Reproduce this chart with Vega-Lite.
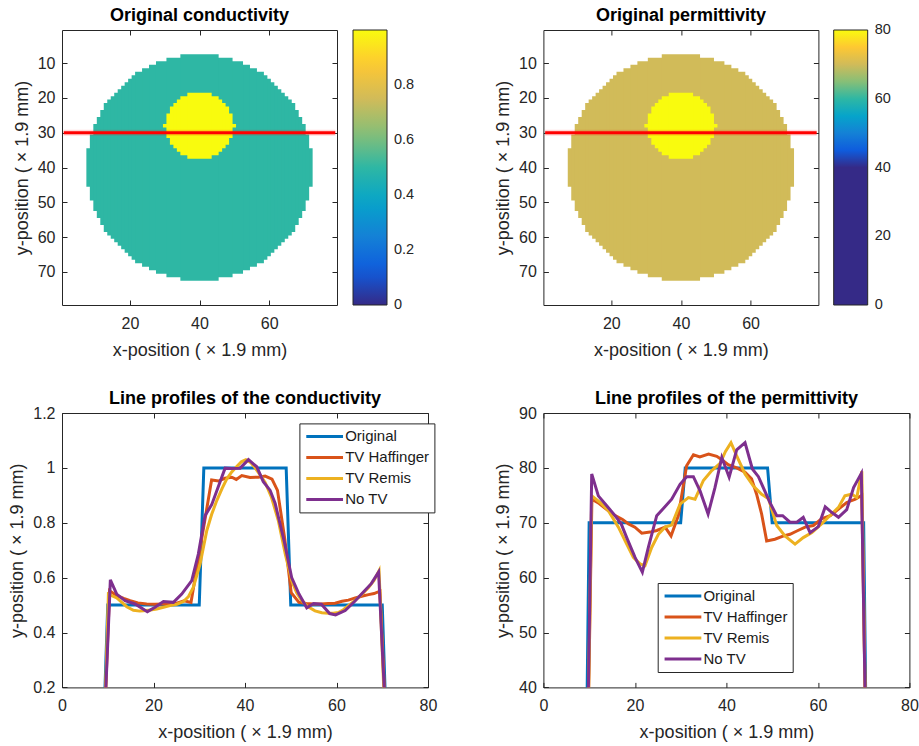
{
  "$schema": "https://vega.github.io/schema/vega-lite/v6.json",
  "padding": {"left": 8, "top": 6, "right": 5, "bottom": 4},
  "background": "white",
  "config": {
    "font": "Liberation Sans",
    "view": {"stroke": "#262626", "strokeWidth": 1},
    "axis": {
      "domain": false, "grid": false,
      "tickColor": "#262626", "tickSize": -5, "tickWidth": 1,
      "labelColor": "#262626", "labelFontSize": 16, "labelFont": "Liberation Sans",
      "titleColor": "#262626", "titleFontSize": 18, "titleFontWeight": "normal", "titleFont": "Liberation Sans",
      "labelFlush": false
    },
    "axisX": {"labelPadding": 15.5, "titlePadding": 10},
    "axisY": {"labelPadding": 12, "titlePadding": 6},
    "title": {"fontSize": 18, "fontWeight": "bold", "font": "Liberation Sans", "color": "#000000", "offset": 5, "baseline": "alphabetic"},
    "legend": {"labelFont": "Liberation Sans"}
  },
  "datasets": {
    "disk": [
      {"x0": 7.5, "x1": 72.5, "y0": 34.5, "y1": 45.5, "cond": 0.5, "perm": 70},
      {"x0": 8.5, "x1": 71.5, "y0": 30.5, "y1": 49.5, "cond": 0.5, "perm": 70},
      {"x0": 9.5, "x1": 70.5, "y0": 27.5, "y1": 52.5, "cond": 0.5, "perm": 70},
      {"x0": 10.5, "x1": 69.5, "y0": 25.5, "y1": 54.5, "cond": 0.5, "perm": 70},
      {"x0": 11.5, "x1": 68.5, "y0": 23.5, "y1": 56.5, "cond": 0.5, "perm": 70},
      {"x0": 12.5, "x1": 67.5, "y0": 21.5, "y1": 58.5, "cond": 0.5, "perm": 70},
      {"x0": 13.5, "x1": 66.5, "y0": 20.5, "y1": 59.5, "cond": 0.5, "perm": 70},
      {"x0": 14.5, "x1": 65.5, "y0": 19.5, "y1": 60.5, "cond": 0.5, "perm": 70},
      {"x0": 15.5, "x1": 64.5, "y0": 18.5, "y1": 61.5, "cond": 0.5, "perm": 70},
      {"x0": 16.5, "x1": 63.5, "y0": 17.5, "y1": 62.5, "cond": 0.5, "perm": 70},
      {"x0": 17.5, "x1": 62.5, "y0": 16.5, "y1": 63.5, "cond": 0.5, "perm": 70},
      {"x0": 18.5, "x1": 61.5, "y0": 15.5, "y1": 64.5, "cond": 0.5, "perm": 70},
      {"x0": 19.5, "x1": 60.5, "y0": 14.5, "y1": 65.5, "cond": 0.5, "perm": 70},
      {"x0": 20.5, "x1": 59.5, "y0": 13.5, "y1": 66.5, "cond": 0.5, "perm": 70},
      {"x0": 21.5, "x1": 58.5, "y0": 12.5, "y1": 67.5, "cond": 0.5, "perm": 70},
      {"x0": 23.5, "x1": 56.5, "y0": 11.5, "y1": 68.5, "cond": 0.5, "perm": 70},
      {"x0": 25.5, "x1": 54.5, "y0": 10.5, "y1": 69.5, "cond": 0.5, "perm": 70},
      {"x0": 27.5, "x1": 52.5, "y0": 9.5, "y1": 70.5, "cond": 0.5, "perm": 70},
      {"x0": 30.5, "x1": 49.5, "y0": 8.5, "y1": 71.5, "cond": 0.5, "perm": 70},
      {"x0": 34.5, "x1": 45.5, "y0": 7.5, "y1": 72.5, "cond": 0.5, "perm": 70},
      {"x0": 29.5, "x1": 50.5, "y0": 27.5, "y1": 28.5, "cond": 1, "perm": 80},
      {"x0": 30.5, "x1": 49.5, "y0": 24.5, "y1": 31.5, "cond": 1, "perm": 80},
      {"x0": 31.5, "x1": 48.5, "y0": 22.5, "y1": 33.5, "cond": 1, "perm": 80},
      {"x0": 32.5, "x1": 47.5, "y0": 21.5, "y1": 34.5, "cond": 1, "perm": 80},
      {"x0": 33.5, "x1": 46.5, "y0": 20.5, "y1": 35.5, "cond": 1, "perm": 80},
      {"x0": 34.5, "x1": 45.5, "y0": 19.5, "y1": 36.5, "cond": 1, "perm": 80},
      {"x0": 36.5, "x1": 43.5, "y0": 18.5, "y1": 37.5, "cond": 1, "perm": 80}
    ],
    "cut": [{"x": 1, "x2": 79, "y": 30}],
    "cond": [
      {"s": "Original", "x": 9, "v": 0}, {"s": "Original", "x": 10, "v": 0.5}, {"s": "Original", "x": 30, "v": 0.5}, {"s": "Original", "x": 31, "v": 1},
      {"s": "Original", "x": 49, "v": 1}, {"s": "Original", "x": 50, "v": 0.5}, {"s": "Original", "x": 70, "v": 0.5}, {"s": "Original", "x": 71, "v": 0},
      {"s": "TV Haffinger", "x": 9.1, "v": 0}, {"s": "TV Haffinger", "x": 10.4, "v": 0.552}, {"s": "TV Haffinger", "x": 12.0, "v": 0.534}, {"s": "TV Haffinger", "x": 13.5, "v": 0.524},
      {"s": "TV Haffinger", "x": 14.9, "v": 0.516}, {"s": "TV Haffinger", "x": 16.6, "v": 0.508}, {"s": "TV Haffinger", "x": 18.5, "v": 0.504}, {"s": "TV Haffinger", "x": 20.3, "v": 0.503},
      {"s": "TV Haffinger", "x": 22.2, "v": 0.504}, {"s": "TV Haffinger", "x": 23.7, "v": 0.505}, {"s": "TV Haffinger", "x": 25.1, "v": 0.507}, {"s": "TV Haffinger", "x": 26.7, "v": 0.516},
      {"s": "TV Haffinger", "x": 28.2, "v": 0.51}, {"s": "TV Haffinger", "x": 32.7, "v": 0.956}, {"s": "TV Haffinger", "x": 34.2, "v": 0.952}, {"s": "TV Haffinger", "x": 35.6, "v": 0.962},
      {"s": "TV Haffinger", "x": 37.1, "v": 0.966}, {"s": "TV Haffinger", "x": 38.1, "v": 0.958}, {"s": "TV Haffinger", "x": 39.3, "v": 0.972}, {"s": "TV Haffinger", "x": 41.1, "v": 0.965},
      {"s": "TV Haffinger", "x": 42.9, "v": 0.966}, {"s": "TV Haffinger", "x": 44.4, "v": 0.97}, {"s": "TV Haffinger", "x": 45.9, "v": 0.959}, {"s": "TV Haffinger", "x": 47.1, "v": 0.918},
      {"s": "TV Haffinger", "x": 48.7, "v": 0.74}, {"s": "TV Haffinger", "x": 50.1, "v": 0.545}, {"s": "TV Haffinger", "x": 51.8, "v": 0.51}, {"s": "TV Haffinger", "x": 53.4, "v": 0.506},
      {"s": "TV Haffinger", "x": 55.0, "v": 0.504}, {"s": "TV Haffinger", "x": 56.6, "v": 0.504}, {"s": "TV Haffinger", "x": 58.2, "v": 0.506}, {"s": "TV Haffinger", "x": 59.7, "v": 0.507},
      {"s": "TV Haffinger", "x": 61.2, "v": 0.514}, {"s": "TV Haffinger", "x": 62.6, "v": 0.518}, {"s": "TV Haffinger", "x": 64.1, "v": 0.526}, {"s": "TV Haffinger", "x": 65.5, "v": 0.532},
      {"s": "TV Haffinger", "x": 67.0, "v": 0.538}, {"s": "TV Haffinger", "x": 68.2, "v": 0.542}, {"s": "TV Haffinger", "x": 69.5, "v": 0.551}, {"s": "TV Haffinger", "x": 71.0, "v": 0},
      {"s": "TV Remis", "x": 9.2, "v": 0}, {"s": "TV Remis", "x": 10.14, "v": 0.54}, {"s": "TV Remis", "x": 11.96, "v": 0.526}, {"s": "TV Remis", "x": 13.4, "v": 0.505},
      {"s": "TV Remis", "x": 14.15, "v": 0.494}, {"s": "TV Remis", "x": 15.61, "v": 0.481}, {"s": "TV Remis", "x": 17.0, "v": 0.478}, {"s": "TV Remis", "x": 17.79, "v": 0.479},
      {"s": "TV Remis", "x": 19.3, "v": 0.482}, {"s": "TV Remis", "x": 20.71, "v": 0.486}, {"s": "TV Remis", "x": 22.2, "v": 0.492}, {"s": "TV Remis", "x": 23.62, "v": 0.498},
      {"s": "TV Remis", "x": 25.1, "v": 0.503}, {"s": "TV Remis", "x": 26.54, "v": 0.513}, {"s": "TV Remis", "x": 27.6, "v": 0.53}, {"s": "TV Remis", "x": 28.72, "v": 0.565},
      {"s": "TV Remis", "x": 30.18, "v": 0.649}, {"s": "TV Remis", "x": 31.64, "v": 0.771}, {"s": "TV Remis", "x": 32.7, "v": 0.83}, {"s": "TV Remis", "x": 33.83, "v": 0.881},
      {"s": "TV Remis", "x": 35.0, "v": 0.925}, {"s": "TV Remis", "x": 36.0, "v": 0.959}, {"s": "TV Remis", "x": 37.1, "v": 0.985}, {"s": "TV Remis", "x": 38.2, "v": 1.005},
      {"s": "TV Remis", "x": 39.2, "v": 1.022}, {"s": "TV Remis", "x": 40.2, "v": 1.03}, {"s": "TV Remis", "x": 41.2, "v": 1.02}, {"s": "TV Remis", "x": 42.2, "v": 1.0},
      {"s": "TV Remis", "x": 43.3, "v": 0.975}, {"s": "TV Remis", "x": 44.4, "v": 0.947}, {"s": "TV Remis", "x": 45.8, "v": 0.892}, {"s": "TV Remis", "x": 47.3, "v": 0.807},
      {"s": "TV Remis", "x": 48.8, "v": 0.686}, {"s": "TV Remis", "x": 50.2, "v": 0.589}, {"s": "TV Remis", "x": 51.3, "v": 0.545}, {"s": "TV Remis", "x": 52.4, "v": 0.516},
      {"s": "TV Remis", "x": 53.8, "v": 0.494}, {"s": "TV Remis", "x": 55.3, "v": 0.479}, {"s": "TV Remis", "x": 56.8, "v": 0.472}, {"s": "TV Remis", "x": 58.2, "v": 0.47},
      {"s": "TV Remis", "x": 59.3, "v": 0.47}, {"s": "TV Remis", "x": 60.4, "v": 0.473}, {"s": "TV Remis", "x": 61.5, "v": 0.483}, {"s": "TV Remis", "x": 62.6, "v": 0.498},
      {"s": "TV Remis", "x": 63.7, "v": 0.512}, {"s": "TV Remis", "x": 64.8, "v": 0.528}, {"s": "TV Remis", "x": 65.9, "v": 0.545}, {"s": "TV Remis", "x": 67.0, "v": 0.564},
      {"s": "TV Remis", "x": 68.2, "v": 0.59}, {"s": "TV Remis", "x": 69.3, "v": 0.625}, {"s": "TV Remis", "x": 70.8, "v": 0},
      {"s": "No TV", "x": 9.1, "v": 0}, {"s": "No TV", "x": 10.57, "v": 0.592}, {"s": "No TV", "x": 11.96, "v": 0.54}, {"s": "No TV", "x": 13.78, "v": 0.516},
      {"s": "No TV", "x": 15.97, "v": 0.504}, {"s": "No TV", "x": 18.66, "v": 0.476}, {"s": "No TV", "x": 20.34, "v": 0.492}, {"s": "No TV", "x": 22.17, "v": 0.513},
      {"s": "No TV", "x": 24.35, "v": 0.51}, {"s": "No TV", "x": 26.17, "v": 0.54}, {"s": "No TV", "x": 28.36, "v": 0.589}, {"s": "No TV", "x": 29.8, "v": 0.686},
      {"s": "No TV", "x": 31.27, "v": 0.826}, {"s": "No TV", "x": 32.72, "v": 0.866}, {"s": "No TV", "x": 35.65, "v": 0.999}, {"s": "No TV", "x": 37.1, "v": 0.998},
      {"s": "No TV", "x": 38.94, "v": 0.999}, {"s": "No TV", "x": 40.75, "v": 1.03}, {"s": "No TV", "x": 42.57, "v": 1.004}, {"s": "No TV", "x": 44.0, "v": 0.95},
      {"s": "No TV", "x": 45.5, "v": 0.918}, {"s": "No TV", "x": 46.6, "v": 0.87}, {"s": "No TV", "x": 48.6, "v": 0.73}, {"s": "No TV", "x": 50.2, "v": 0.6},
      {"s": "No TV", "x": 51.8, "v": 0.54}, {"s": "No TV", "x": 53.5, "v": 0.49}, {"s": "No TV", "x": 55.0, "v": 0.506}, {"s": "No TV", "x": 56.7, "v": 0.503},
      {"s": "No TV", "x": 58.5, "v": 0.469}, {"s": "No TV", "x": 59.8, "v": 0.464}, {"s": "No TV", "x": 61.9, "v": 0.48}, {"s": "No TV", "x": 64.0, "v": 0.514},
      {"s": "No TV", "x": 66.3, "v": 0.555}, {"s": "No TV", "x": 67.6, "v": 0.578}, {"s": "No TV", "x": 69.2, "v": 0.62}, {"s": "No TV", "x": 71.0, "v": 0}
    ],
    "perm": [
      {"s": "Original", "x": 9, "v": 0}, {"s": "Original", "x": 10, "v": 70}, {"s": "Original", "x": 30, "v": 70}, {"s": "Original", "x": 31, "v": 80},
      {"s": "Original", "x": 49, "v": 80}, {"s": "Original", "x": 50, "v": 70}, {"s": "Original", "x": 70, "v": 70}, {"s": "Original", "x": 71, "v": 0},
      {"s": "TV Haffinger", "x": 9.1, "v": 0}, {"s": "TV Haffinger", "x": 10.6, "v": 74.3}, {"s": "TV Haffinger", "x": 12.2, "v": 73.5}, {"s": "TV Haffinger", "x": 14.0, "v": 72.3},
      {"s": "TV Haffinger", "x": 15.7, "v": 71.3}, {"s": "TV Haffinger", "x": 17.3, "v": 70.6}, {"s": "TV Haffinger", "x": 18.6, "v": 69.8}, {"s": "TV Haffinger", "x": 20.0, "v": 69.2},
      {"s": "TV Haffinger", "x": 21.5, "v": 68.1}, {"s": "TV Haffinger", "x": 23.3, "v": 68.3}, {"s": "TV Haffinger", "x": 24.8, "v": 68.6}, {"s": "TV Haffinger", "x": 26.6, "v": 69.2},
      {"s": "TV Haffinger", "x": 27.9, "v": 67.6}, {"s": "TV Haffinger", "x": 29.5, "v": 71.3}, {"s": "TV Haffinger", "x": 31.3, "v": 80.4}, {"s": "TV Haffinger", "x": 32.8, "v": 82.4},
      {"s": "TV Haffinger", "x": 34.2, "v": 82.0}, {"s": "TV Haffinger", "x": 36.1, "v": 82.5}, {"s": "TV Haffinger", "x": 37.9, "v": 82.1}, {"s": "TV Haffinger", "x": 39.0, "v": 81.5},
      {"s": "TV Haffinger", "x": 40.4, "v": 80.6}, {"s": "TV Haffinger", "x": 42.25, "v": 80.0}, {"s": "TV Haffinger", "x": 44.07, "v": 79.2}, {"s": "TV Haffinger", "x": 45.5, "v": 78.0},
      {"s": "TV Haffinger", "x": 46.6, "v": 75.2}, {"s": "TV Haffinger", "x": 47.7, "v": 71.6}, {"s": "TV Haffinger", "x": 48.8, "v": 66.7}, {"s": "TV Haffinger", "x": 50.6, "v": 67.0},
      {"s": "TV Haffinger", "x": 52.5, "v": 67.6}, {"s": "TV Haffinger", "x": 53.9, "v": 67.9}, {"s": "TV Haffinger", "x": 55.4, "v": 68.5}, {"s": "TV Haffinger", "x": 57.2, "v": 69.2},
      {"s": "TV Haffinger", "x": 59.0, "v": 69.5}, {"s": "TV Haffinger", "x": 60.8, "v": 70.7}, {"s": "TV Haffinger", "x": 62.7, "v": 71.3}, {"s": "TV Haffinger", "x": 64.5, "v": 72.5},
      {"s": "TV Haffinger", "x": 66.3, "v": 73.7}, {"s": "TV Haffinger", "x": 68.2, "v": 74.3}, {"s": "TV Haffinger", "x": 69.6, "v": 75.0}, {"s": "TV Haffinger", "x": 71.1, "v": 0},
      {"s": "TV Remis", "x": 9.1, "v": 0}, {"s": "TV Remis", "x": 10.56, "v": 74.9}, {"s": "TV Remis", "x": 12.38, "v": 73.7}, {"s": "TV Remis", "x": 14.2, "v": 72.2},
      {"s": "TV Remis", "x": 16.39, "v": 69.2}, {"s": "TV Remis", "x": 18.21, "v": 66.1}, {"s": "TV Remis", "x": 19.66, "v": 63.7}, {"s": "TV Remis", "x": 21.12, "v": 62.5},
      {"s": "TV Remis", "x": 22.21, "v": 62.2}, {"s": "TV Remis", "x": 23.67, "v": 65.5}, {"s": "TV Remis", "x": 25.13, "v": 67.9}, {"s": "TV Remis", "x": 26.59, "v": 69.2},
      {"s": "TV Remis", "x": 28.04, "v": 69.6}, {"s": "TV Remis", "x": 29.87, "v": 73.4}, {"s": "TV Remis", "x": 31.69, "v": 74.6}, {"s": "TV Remis", "x": 33.15, "v": 74.3},
      {"s": "TV Remis", "x": 34.97, "v": 77.7}, {"s": "TV Remis", "x": 36.8, "v": 79.5}, {"s": "TV Remis", "x": 38.6, "v": 80.8}, {"s": "TV Remis", "x": 39.8, "v": 83.0},
      {"s": "TV Remis", "x": 41.0, "v": 84.6}, {"s": "TV Remis", "x": 42.25, "v": 82.2}, {"s": "TV Remis", "x": 44.07, "v": 78.9}, {"s": "TV Remis", "x": 45.9, "v": 76.7},
      {"s": "TV Remis", "x": 47.7, "v": 75.2}, {"s": "TV Remis", "x": 49.2, "v": 74.4}, {"s": "TV Remis", "x": 50.0, "v": 72.2}, {"s": "TV Remis", "x": 51.0, "v": 69.5},
      {"s": "TV Remis", "x": 52.8, "v": 67.6}, {"s": "TV Remis", "x": 55.0, "v": 66.1}, {"s": "TV Remis", "x": 56.8, "v": 67.3}, {"s": "TV Remis", "x": 58.7, "v": 68.2},
      {"s": "TV Remis", "x": 60.8, "v": 69.8}, {"s": "TV Remis", "x": 63.0, "v": 71.6}, {"s": "TV Remis", "x": 64.5, "v": 72.8}, {"s": "TV Remis", "x": 65.9, "v": 74.9},
      {"s": "TV Remis", "x": 67.4, "v": 75.2}, {"s": "TV Remis", "x": 68.5, "v": 74.6}, {"s": "TV Remis", "x": 69.6, "v": 79.4}, {"s": "TV Remis", "x": 71.0, "v": 0},
      {"s": "No TV", "x": 9.1, "v": 0}, {"s": "No TV", "x": 10.56, "v": 78.9}, {"s": "No TV", "x": 12.01, "v": 74.9}, {"s": "No TV", "x": 13.84, "v": 73.1},
      {"s": "No TV", "x": 15.66, "v": 71.3}, {"s": "No TV", "x": 17.0, "v": 69.8}, {"s": "No TV", "x": 18.21, "v": 67.3}, {"s": "No TV", "x": 20.03, "v": 63.7},
      {"s": "No TV", "x": 21.63, "v": 61.0}, {"s": "No TV", "x": 22.94, "v": 65.5}, {"s": "No TV", "x": 24.77, "v": 71.3}, {"s": "No TV", "x": 26.22, "v": 72.6},
      {"s": "No TV", "x": 28.04, "v": 74.3}, {"s": "No TV", "x": 29.87, "v": 77.0}, {"s": "No TV", "x": 31.32, "v": 78.4}, {"s": "No TV", "x": 32.78, "v": 78.4},
      {"s": "No TV", "x": 34.24, "v": 75.8}, {"s": "No TV", "x": 36.0, "v": 71.6}, {"s": "No TV", "x": 37.5, "v": 76.4}, {"s": "No TV", "x": 39.0, "v": 81.9},
      {"s": "No TV", "x": 40.6, "v": 78.3}, {"s": "No TV", "x": 42.25, "v": 83.3}, {"s": "No TV", "x": 44.07, "v": 84.6}, {"s": "No TV", "x": 45.68, "v": 79.8},
      {"s": "No TV", "x": 47.0, "v": 78.4}, {"s": "No TV", "x": 49.5, "v": 73.7}, {"s": "No TV", "x": 51.0, "v": 71.3}, {"s": "No TV", "x": 52.3, "v": 71.3},
      {"s": "No TV", "x": 53.9, "v": 70.1}, {"s": "No TV", "x": 55.4, "v": 70.1}, {"s": "No TV", "x": 56.8, "v": 71.0}, {"s": "No TV", "x": 58.3, "v": 68.2},
      {"s": "No TV", "x": 60.1, "v": 69.3}, {"s": "No TV", "x": 61.6, "v": 72.9}, {"s": "No TV", "x": 63.0, "v": 71.9}, {"s": "No TV", "x": 64.5, "v": 71.0},
      {"s": "No TV", "x": 66.3, "v": 72.4}, {"s": "No TV", "x": 67.8, "v": 76.4}, {"s": "No TV", "x": 69.5, "v": 79.0}, {"s": "No TV", "x": 71.1, "v": 0}
    ]
  },
  "concat": [
    {
      "width": 275, "height": 275,
      "title": "Original conductivity",
      "layer": [
        {
          "data": {"name": "disk"},
          "mark": {"type": "rect"},
          "encoding": {
            "x": {"field": "x0", "type": "quantitative", "scale": {"domain": [0.5, 79.5], "nice": false, "zero": false}, "axis": {"values": [20, 40, 60], "title": "x-position ( × 1.9 mm)"}},
            "x2": {"field": "x1"},
            "y": {"field": "y0", "type": "quantitative", "scale": {"domain": [0.5, 79.5], "nice": false, "zero": false, "reverse": true}, "axis": {"values": [10, 20, 30, 40, 50, 60, 70], "title": "y-position ( × 1.9 mm)"}},
            "y2": {"field": "y1"},
            "color": {
              "field": "cond", "type": "quantitative",
              "scale": {"type": "linear", "domain": [0, 0.125, 0.25, 0.375, 0.5, 0.625, 0.75, 0.875, 1], "range": ["#352a87", "#0f5cdd", "#1481d6", "#06a4ca", "#2eb7a4", "#87bf77", "#d1bb59", "#fec832", "#f9fb0e"], "interpolate": "rgb"},
              "legend": {"type": "gradient", "orient": "none", "legendX": 291, "legendY": 0, "direction": "vertical", "gradientLength": 275, "gradientThickness": 34, "title": null, "values": [0, 0.2, 0.4, 0.6, 0.8], "format": "~g", "labelFontSize": 14.5, "labelColor": "#262626", "labelOffset": 7, "labelBaseline": "middle", "gradientStrokeColor": "#262626", "gradientStrokeWidth": 1, "padding": 0,
                "encode": {"labels": {"update": {"baseline": {"value": "middle"}}}}}
            }
          }
        },
        {
          "data": {"name": "cut"},
          "mark": {"type": "rule", "color": "#ff0000", "strokeWidth": 6, "opacity": 0.15},
          "encoding": {
            "x": {"field": "x", "type": "quantitative", "axis": null},
            "x2": {"field": "x2"},
            "y": {"field": "y", "type": "quantitative", "axis": null}
          }
        },
        {
          "data": {"name": "cut"},
          "mark": {"type": "rule", "color": "#ff0000", "strokeWidth": 3},
          "encoding": {
            "x": {"field": "x", "type": "quantitative", "axis": {"orient": "top", "labels": false, "title": null, "values": [20, 40, 60]}},
            "x2": {"field": "x2"},
            "y": {"field": "y", "type": "quantitative", "axis": {"orient": "right", "labels": false, "title": null, "values": [10, 20, 30, 40, 50, 60, 70]}}
          }
        }
      ],
      "resolve": {"axis": {"x": "independent", "y": "independent"}}
    },
    {
      "width": 275, "height": 275,
      "title": "Original permittivity",
      "layer": [
        {
          "data": {"name": "disk"},
          "mark": {"type": "rect"},
          "encoding": {
            "x": {"field": "x0", "type": "quantitative", "scale": {"domain": [0.5, 79.5], "nice": false, "zero": false}, "axis": {"values": [20, 40, 60], "title": "x-position ( × 1.9 mm)"}},
            "x2": {"field": "x1"},
            "y": {"field": "y0", "type": "quantitative", "scale": {"domain": [0.5, 79.5], "nice": false, "zero": false, "reverse": true}, "axis": {"values": [10, 20, 30, 40, 50, 60, 70], "title": "y-position ( × 1.9 mm)"}},
            "y2": {"field": "y1"},
            "color": {
              "field": "perm", "type": "quantitative",
              "scale": {"type": "linear", "domain": [0, 40, 45, 50, 55, 60, 65, 70, 75, 80], "range": ["#352a87", "#352a87", "#0f5cdd", "#1481d6", "#06a4ca", "#2eb7a4", "#87bf77", "#d1bb59", "#fec832", "#f9fb0e"], "interpolate": "rgb"},
              "legend": {"type": "gradient", "orient": "none", "legendX": 290.3, "legendY": 0, "direction": "vertical", "gradientLength": 275, "gradientThickness": 34, "title": null, "values": [0, 20, 40, 60, 80], "format": "d", "labelFontSize": 14.5, "labelColor": "#262626", "labelOffset": 7, "labelBaseline": "middle", "gradientStrokeColor": "#262626", "gradientStrokeWidth": 1, "padding": 0,
                "encode": {"labels": {"update": {"baseline": {"value": "middle"}}}}}
            }
          }
        },
        {
          "data": {"name": "cut"},
          "mark": {"type": "rule", "color": "#ff0000", "strokeWidth": 6, "opacity": 0.15},
          "encoding": {
            "x": {"field": "x", "type": "quantitative", "axis": null},
            "x2": {"field": "x2"},
            "y": {"field": "y", "type": "quantitative", "axis": null}
          }
        },
        {
          "data": {"name": "cut"},
          "mark": {"type": "rule", "color": "#ff0000", "strokeWidth": 3},
          "encoding": {
            "x": {"field": "x", "type": "quantitative", "axis": {"orient": "top", "labels": false, "title": null, "values": [20, 40, 60]}},
            "x2": {"field": "x2"},
            "y": {"field": "y", "type": "quantitative", "axis": {"orient": "right", "labels": false, "title": null, "values": [10, 20, 30, 40, 50, 60, 70]}}
          }
        }
      ],
      "resolve": {"axis": {"x": "independent", "y": "independent"}}
    },
    {
      "width": 366, "height": 274.4,
      "title": {"text": "Line profiles of the conductivity", "offset": -2.5},
      "data": {"name": "cond"},
      "layer": [
        {
          "transform": [{"filter": "datum.s === 'Original'"}],
          "mark": {"type": "line", "strokeWidth": 3, "clip": true},
          "encoding": {
            "x": {"field": "x", "type": "quantitative", "scale": {"domain": [0, 80], "nice": false, "zero": false}, "axis": {"values": [0, 20, 40, 60, 80], "title": "x-position ( × 1.9 mm)"}},
            "y": {"field": "v", "type": "quantitative", "scale": {"domain": [0.2, 1.2], "nice": false, "zero": false}, "axis": {"values": [0.2, 0.4, 0.6, 0.8, 1, 1.2], "format": "~g", "title": "y-position ( × 1.9 mm)"}},
            "color": {
              "field": "s", "type": "nominal",
              "scale": {"domain": ["Original", "TV Haffinger", "TV Remis", "No TV"], "range": ["#0072bd", "#d95319", "#edb120", "#7e2f8e"]},
              "legend": {"orient": "none", "legendX": 237.4, "legendY": 10.4, "title": null, "symbolType": "M-3,0H3", "symbolSize": 150, "symbolOffset": 12.25, "symbolStrokeWidth": 3, "labelFontSize": 15, "labelColor": "#1a1a1a", "labelOffset": 12.5, "strokeColor": "#262626", "fillColor": "#ffffff", "padding": 5, "rowPadding": 5}
            }
          }
        },
        {
          "transform": [{"filter": "datum.s !== 'Original'"}],
          "mark": {"type": "line", "strokeWidth": 3, "clip": true},
          "encoding": {
            "x": {"field": "x", "type": "quantitative", "axis": {"orient": "top", "labels": false, "title": null, "values": [0, 20, 40, 60, 80]}},
            "y": {"field": "v", "type": "quantitative", "axis": {"orient": "right", "labels": false, "title": null, "values": [0.2, 0.4, 0.6, 0.8, 1, 1.2]}},
            "color": {"field": "s", "type": "nominal"}
          }
        }
      ],
      "resolve": {"axis": {"x": "independent", "y": "independent"}}
    },
    {
      "width": 366, "height": 274.4,
      "title": {"text": "Line profiles of the permittivity", "offset": -2.5},
      "data": {"name": "perm"},
      "layer": [
        {
          "transform": [{"filter": "datum.s === 'Original'"}],
          "mark": {"type": "line", "strokeWidth": 3, "clip": true},
          "encoding": {
            "x": {"field": "x", "type": "quantitative", "scale": {"domain": [0, 80], "nice": false, "zero": false}, "axis": {"values": [0, 20, 40, 60, 80], "title": "x-position ( × 1.9 mm)"}},
            "y": {"field": "v", "type": "quantitative", "scale": {"domain": [40, 90], "nice": false, "zero": false}, "axis": {"values": [40, 50, 60, 70, 80, 90], "title": "y-position ( × 1.9 mm)"}},
            "color": {
              "field": "s", "type": "nominal",
              "scale": {"domain": ["Original", "TV Haffinger", "TV Remis", "No TV"], "range": ["#0072bd", "#d95319", "#edb120", "#7e2f8e"]},
              "legend": {"orient": "none", "legendX": 114.3, "legendY": 170, "title": null, "symbolType": "M-3,0H3", "symbolSize": 150, "symbolOffset": 12.25, "symbolStrokeWidth": 3, "labelFontSize": 15, "labelColor": "#1a1a1a", "labelOffset": 12.5, "strokeColor": "#262626", "fillColor": "#ffffff", "padding": 5, "rowPadding": 5}
            }
          }
        },
        {
          "transform": [{"filter": "datum.s !== 'Original'"}],
          "mark": {"type": "line", "strokeWidth": 3, "clip": true},
          "encoding": {
            "x": {"field": "x", "type": "quantitative", "axis": {"orient": "top", "labels": false, "title": null, "values": [0, 20, 40, 60, 80]}},
            "y": {"field": "v", "type": "quantitative", "axis": {"orient": "right", "labels": false, "title": null, "values": [40, 50, 60, 70, 80, 90]}},
            "color": {"field": "s", "type": "nominal"}
          }
        }
      ],
      "resolve": {"axis": {"x": "independent", "y": "independent"}}
    }
  ],
  "columns": 2,
  "align": "all",
  "spacing": {"row": 108, "column": 115.4},
  "bounds": "flush",
  "resolve": {"scale": {"color": "independent"}, "legend": {"color": "independent"}}
}
